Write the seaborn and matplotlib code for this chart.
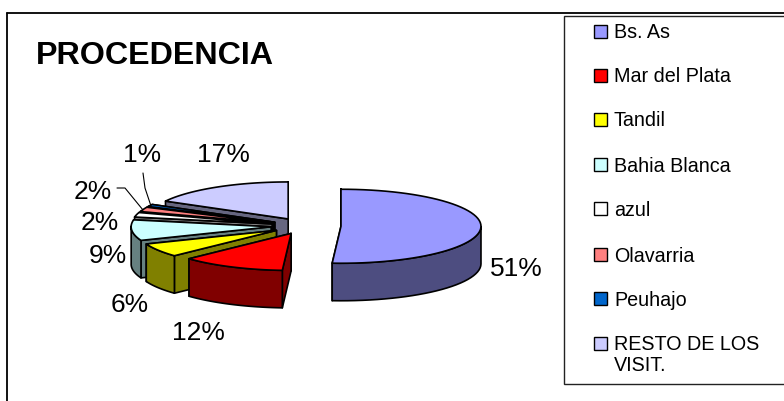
import numpy as np
import matplotlib
matplotlib.use("Agg")
import matplotlib.pyplot as plt
from matplotlib.patches import Polygon, Rectangle
import seaborn as sns

categories = ["Bs. As", "Mar del Plata", "Tandil", "Bahia Blanca", "azul",
              "Olavarria", "Peuhajo", "RESTO DE LOS\nVISIT."]
values = [51, 12, 6, 9, 2, 2, 1, 17]
top_colors = ["#9999FF", "#FF0000", "#FFFF00", "#CCFFFF", "#FFFFFF",
              "#FF8080", "#0066CC", "#CCCCFF"]
side_colors = ["#4D4D80", "#800000", "#808000", "#668080", "#808080",
               "#804040", "#003366", "#666680"]
title = "PROCEDENCIA"
label_text = ["51%", "12%", "6%", "9%", "2%", "2%", "1%", "17%"]

sns.set_theme(style="white")
plt.rcParams["font.family"] = ["Liberation Sans", "DejaVu Sans"]

fig = plt.figure(figsize=(7.84, 4.01), dpi=100, facecolor="white")
ax = fig.add_axes([0, 0, 1, 1])
ax.set_xlim(0, 784)
ax.set_ylim(401, 0)
ax.axis("off")

CX, CY, RX, RY, DEPTH, EXPL_X, EXPL_Y = 306, 226, 140, 37, 37.5, 35, 8.2

fracs = np.array(values) / np.sum(values)
edges = 90 - 360 * np.concatenate([[0], np.cumsum(fracs)])
edges[-1] = 90 - 360


def slice_geom(i):
    a0, a1 = np.radians(edges[i]), np.radians(edges[i + 1])
    mid = (a0 + a1) / 2
    cx = CX + EXPL_X * np.cos(mid)
    cy = CY - EXPL_Y * np.sin(mid)
    t = np.linspace(a0, a1, 60)
    return cx, cy, t, cx + RX * np.cos(t), cy - RY * np.sin(t)


def draw_slice(i):
    cx, cy, t, x, y = slice_geom(i)
    kw = dict(ec="black", lw=1.2, joinstyle="round")
    # the start edge of each slice faces the viewer, so it goes on top
    for j in (-1, 0):
        ax.add_patch(Polygon([(cx, cy), (x[j], y[j]), (x[j], y[j] + DEPTH),
                              (cx, cy + DEPTH)], fc=side_colors[i], **kw))
    # only the part of the rim that faces the viewer is visible
    vis = np.sin(t) <= 0.02
    if vis.sum() > 1:
        rx, ry = x[vis], y[vis]
        pts = list(zip(rx, ry)) + list(zip(rx[::-1], ry[::-1] + DEPTH))
        ax.add_patch(Polygon(pts, fc=side_colors[i], **kw))
    ax.add_patch(Polygon([(cx, cy)] + list(zip(x, y)), fc=top_colors[i], **kw))


for i in [7, 6, 5, 4, 3, 2, 0, 1]:
    draw_slice(i)

# data labels
label_pos = [(516, 269), (198, 333), (130, 305), (108, 256),
             (100, 223), (93, 192), (142, 155), (223, 155)]
for s, (lx, ly) in zip(label_text, label_pos):
    ax.text(lx, ly, s, fontsize=19, color="black", ha="center", va="center")

# leader lines for the two small labels
ax.plot([117, 125, 143], [188, 188, 210], color="black", lw=0.8)
ax.plot([143, 145, 151], [173, 188, 206], color="black", lw=0.8)

ax.text(36, 56, title, fontsize=23.2, fontweight="bold", color="black",
        ha="left", va="center")

# chart frame and legend box
ax.plot([7.5, 7.5], [401, 13], color="black", lw=1.3)
ax.plot([7.5, 784], [13, 13], color="black", lw=1.3)
ax.add_patch(Rectangle((564.5, 16), 230, 367.5, fc="white", ec="#222222", lw=1.0, zorder=3))

legend_y = [31, 75, 119, 164, 208, 254, 298, 343]
for name, col, ly in zip(categories, top_colors, legend_y):
    ax.add_patch(Rectangle((594, ly - 6.5), 13, 13, fc=col, ec="black", lw=1.0, zorder=4))
    ax.text(614, ly - 7.5, name, fontsize=14.2, color="black", ha="left", va="top",
            linespacing=1.08, zorder=4)

fig.savefig("out.png", dpi=100, facecolor="white")
